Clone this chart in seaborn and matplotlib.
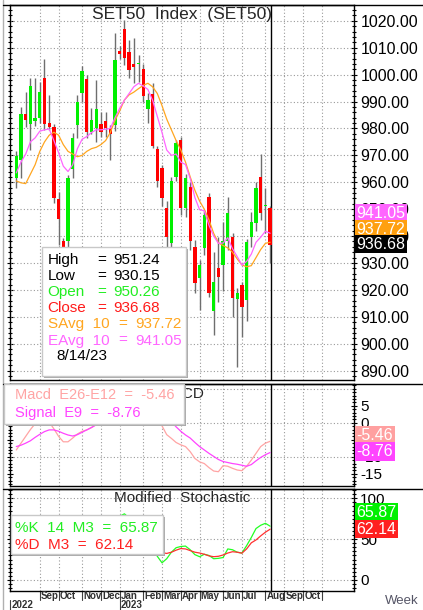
import matplotlib
matplotlib.use("Agg")
import matplotlib.pyplot as plt
from matplotlib.patches import Rectangle
from matplotlib.lines import Line2D
import matplotlib.transforms as mtransforms
import numpy as np
import pandas as pd
import seaborn as sns

# weekly bars, week 0 = 1 Aug 2022 ... week 54 = 14 Aug 2023
opens = [961.7, 968.1, 985.4, 981.6, 982.8, 983.8, 998.7, 982.2, 980.7, 953.8,
         938.0, 938.3, 965.0, 981.3, 993.1, 998.3, 978.8, 980.1, 981.8, 982.8,
         980.1, 981.3, 1008.8, 1016.9, 1008.6, 1004.1, 1003.8, 1002.0, 987.2, 993.0,
         972.4, 965.2, 950.3, 937.4, 962.1, 975.8, 950.4, 958.4, 936.1, 924.3,
         935.5, 954.7, 912.2, 928.1, 929.3, 938.0, 939.8, 916.5, 921.9, 916.3,
         939.5, 944.8, 962.1, 951.0, 950.26]
highs = [971.7, 987.8, 993.5, 998.7, 998.7, 997.4, 1005.8, 992.5, 981.5, 956.5,
         939.2, 962.8, 978.3, 992.5, 1003.4, 999.9, 987.5, 998.1, 986.3, 986.3,
         981.3, 1015.4, 1010.5, 1020.5, 1012.9, 1013.6, 1007.4, 1004.1, 993.1, 997.0,
         973.3, 966.5, 953.0, 962.0, 975.8, 977.0, 963.0, 960.0, 938.6, 931.2,
         949.7, 956.0, 934.1, 939.8, 945.4, 954.7, 941.2, 920.7, 923.1, 938.8,
         949.0, 960.0, 970.6, 958.0, 951.24]
lows = [957.9, 961.5, 980.5, 972.0, 981.0, 982.0, 979.5, 979.5, 952.2, 936.7,
        934.9, 930.0, 961.5, 976.5, 989.8, 976.4, 978.0, 975.1, 977.0, 977.0,
        968.3, 979.0, 1006.0, 1003.6, 998.7, 996.8, 997.4, 989.8, 982.0, 972.7,
        958.4, 951.0, 936.1, 936.1, 960.3, 948.0, 947.0, 934.9, 918.8, 912.6,
        933.0, 917.5, 903.3, 915.6, 919.4, 934.9, 910.0, 891.5, 902.6, 908.5,
        936.0, 942.0, 946.0, 941.2, 930.15]
closes = [969.6, 985.4, 983.2, 995.8, 983.8, 993.5, 981.6, 980.7, 954.3, 946.4,
          935.9, 961.5, 976.6, 989.8, 1001.2, 978.8, 983.2, 987.3, 978.8, 980.1,
          977.9, 1005.4, 1007.6, 1006.1, 1001.8, 1003.0, 1004.2, 992.2, 990.5, 973.5,
          960.6, 954.1, 939.8, 960.3, 974.5, 950.4, 961.5, 938.0, 922.5, 929.3,
          947.9, 918.8, 923.0, 924.7, 938.0, 948.5, 916.9, 919.0, 913.8, 937.7,
          945.2, 957.7, 948.5, 951.4, 936.68]
savg10 = [960.5, 959.8, 959.5, 963.0, 966.5, 971.5, 975.0, 977.5, 978.6, 977.5,
          974.0, 971.5, 970.5, 969.5, 970.0, 971.5, 972.5, 973.0, 974.0, 975.5,
          978.5, 983.0, 986.5, 990.6, 992.5, 993.5, 994.8, 996.0, 996.8, 995.5,
          993.0, 988.5, 983.5, 979.5, 975.5, 972.0, 967.5, 962.0, 957.0, 953.0,
          950.0, 946.0, 941.0, 937.5, 936.5, 935.6, 934.0, 931.5, 929.3, 928.6,
          929.0, 932.0, 935.0, 937.3, 937.72]
eavg10 = [963.5, 967.5, 970.5, 975.0, 976.5, 979.0, 979.5, 979.8, 975.5, 971.0,
          966.0, 964.0, 966.5, 972.5, 976.0, 977.0, 978.5, 979.5, 979.5, 979.7,
          980.0, 984.0, 987.5, 990.5, 993.0, 995.5, 996.8, 995.8, 994.5, 990.5,
          984.5, 978.5, 972.0, 970.0, 970.5, 967.5, 966.6, 961.4, 954.3, 949.8,
          949.4, 944.0, 940.0, 937.3, 937.4, 939.4, 935.3, 932.4, 929.2, 930.6,
          933.3, 937.7, 939.6, 941.8, 941.05]
macd = [-8.0, -6.0, -4.0, -2.0, -0.3, 0.5, 0.8, 0.2, -1.8, -4.0,
        -5.6, -5.6, -4.5, -3.3, -2.5, -2.1, -1.4, -0.5, 0.5, 1.0,
        1.2, 3.0, 4.8, 6.0, 6.5, 6.8, 6.8, 6.0, 5.0, 3.0,
        1.0, -0.9, -3.5, -4.6, -5.8, -6.5, -7.0, -8.5, -10.5, -11.5,
        -12.0, -13.2, -14.2, -14.4, -12.6, -12.8, -13.4, -13.9, -14.1, -12.8,
        -11.0, -9.0, -7.0, -6.0, -5.46]
signal = [-7.0, -6.6, -6.0, -5.3, -4.3, -3.4, -2.6, -2.1, -2.1, -2.5,
          -3.1, -3.6, -3.9, -3.5, -2.8, -2.1, -1.4, -0.6, 0.1, 0.6,
          1.0, 1.5, 2.2, 3.0, 3.7, 4.3, 4.8, 5.1, 5.2, 4.8,
          4.1, 3.1, 1.8, 0.3, -1.2, -2.5, -3.6, -4.5, -5.8, -7.0,
          -8.0, -9.0, -9.9, -10.8, -11.4, -11.7, -12.0, -12.2, -12.5, -12.8,
          -12.3, -11.2, -10.2, -9.4, -8.76]
stoch_k = [60, 70, 72, 75, 72, 74, 70, 60, 45, 38,
           36, 48, 58, 66, 72, 65, 62, 66, 60, 58,
           55, 70, 78, 81, 76, 72, 70, 62, 55, 40,
           29, 21, 26, 34, 39.5, 41, 41.5, 37, 31, 28.5,
           31.5, 30, 26, 26.5, 27.5, 38, 37, 34, 33, 42,
           52, 63, 67, 69.4, 65.87]
stoch_d = [55, 62, 67, 72, 73, 73.5, 72, 68, 58, 48,
           40, 41, 47, 57, 65, 68, 66, 64, 63, 61,
           58, 61, 68, 76, 78, 76, 73, 68, 62, 52,
           36.5, 33.5, 32.5, 34, 36.5, 38.5, 38, 36, 34, 33,
           31.5, 29.5, 28.5, 29, 30.6, 33, 34.6, 34, 32.8, 38,
           45.5, 49, 54, 58.5, 62.14]
last_date = "8/14/23"

month_names = ["Sep", "Oct", "Nov", "Dec", "Jan", "Feb", "Mar", "Apr",
               "May", "Jun", "Jul", "Aug", "Sep", "Oct"]
month_start_week = [5, 9, 14, 18, 22, 27, 31, 35, 39, 44, 48, 53, 57, 61, 65]
year_names = ["2022", "2023"]
year_start_week = [-1.3, 22]

price_ticks = list(range(890, 1030, 10))
macd_ticks = [5, 0, -5, -10, -15]
macd_labels = ["5", "0", "", "-10", "-15"]
stoch_ticks = [100, 50, 0]

GREEN = "#00F000"
RED = "#FF0000"
ORANGE = "#FFA620"
VIOLET = "#FF66FF"
SALMON = "#FFA4A4"
MAGENTA = "#FF44FF"
GRID = "#9A9A9A"

sns.set_style("white")
plt.rcParams["font.family"] = ["Liberation Sans", "DejaVu Sans"]

df = pd.DataFrame({"week": np.arange(len(closes)), "open": opens, "high": highs,
                   "low": lows, "close": closes, "savg": savg10, "eavg": eavg10,
                   "macd": macd, "signal": signal, "k": stoch_k, "d": stoch_d})
df["body_lo"] = df[["open", "close"]].min(axis=1)
df["body_h"] = (df["close"] - df["open"]).abs().clip(lower=0.5)

W, H = 423, 610
fig = plt.figure(figsize=(W / 100, H / 100), dpi=100)


def axes_px(x0, y0, x1, y1):
    return fig.add_axes([x0 / W, 1 - y1 / H, (x1 - x0) / W, (y1 - y0) / H])


def ftext(x, y, s, **kw):
    kw.setdefault("va", "center")
    kw.setdefault("ha", "left")
    kw.setdefault("zorder", 12)
    return fig.text(x / W, 1 - y / H, s, **kw)


def frect(x0, y0, x1, y1, **kw):
    fig.add_artist(Rectangle((x0 / W, 1 - y1 / H), (x1 - x0) / W, (y1 - y0) / H,
                             transform=fig.transFigure, **kw))


def fline(x0, y0, x1, y1, **kw):
    fig.add_artist(Line2D([x0 / W, x1 / W], [1 - y0 / H, 1 - y1 / H],
                          transform=fig.transFigure, **kw))


ax_p = axes_px(10, 5, 354, 380)
ax_m = axes_px(10, 384, 354, 486)
ax_s = axes_px(10, 489, 354, 591)

for ax in (ax_p, ax_m, ax_s):
    ax.set_xlim(-1.34, 71.85)
    ax.set_xticks([])
    for sp in ax.spines.values():
        sp.set_color("black")
        sp.set_linewidth(1)
    for w in month_start_week:
        ax.axvline(w, color=GRID, lw=0.8, ls=(0, (1, 2)), zorder=1)
    ax.axvline(54.15, color="black", lw=1, zorder=2)
    ax.yaxis.tick_right()
    ax.tick_params(axis="y", which="both", direction="inout", left=True, right=True,
                   labelleft=False, labelright=True, labelsize=11.5, pad=2,
                   colors="black", width=0.8)
    ax.tick_params(axis="y", which="major", length=5)
    ax.tick_params(axis="y", which="minor", length=3)

# price panel
ax_p.set_ylim(886.5, 1025.9)
ax_p.set_yticks(price_ticks)
ax_p.set_yticklabels([f"{v:.2f}" for v in price_ticks])
ax_p.set_yticks(np.arange(888, 1026, 2), minor=True)
for v in price_ticks:
    ax_p.axhline(v, color=GRID, lw=0.8, ls=(0, (1, 2)), zorder=1)
ax_p.vlines(df["week"], df["low"], df["high"], color="#6E6E6E", lw=1, zorder=3)
ax_p.bar(df["week"], df["body_h"], bottom=df["body_lo"], width=0.72, lw=0, zorder=4,
         color=np.where(df["close"] >= df["open"], GREEN, RED))
sns.lineplot(data=df, x="week", y="savg", ax=ax_p, color=ORANGE, lw=0.9, zorder=5, legend=False)
sns.lineplot(data=df, x="week", y="eavg", ax=ax_p, color=VIOLET, lw=0.9, zorder=5, legend=False)
ax_p.set_xlabel("")
ax_p.set_ylabel("")
ax_p.text(0.5, 0.975, "SET50  Index  (SET50)", transform=ax_p.transAxes, ha="center",
          va="center", fontsize=12.5, zorder=6)

# MACD panel
ax_m.set_ylim(-18.6, 11.4)
ax_m.set_yticks(macd_ticks)
ax_m.set_yticklabels(macd_labels)
ax_m.set_yticks(np.arange(-18, 12, 1), minor=True)
ax_m.tick_params(axis="y", labelsize=11)
for v in (10, 0, -10):
    ax_m.axhline(v, color=GRID, lw=0.8, ls=(0, (1, 2)), zorder=1)
sns.lineplot(data=df, x="week", y="macd", ax=ax_m, color=SALMON, lw=0.9, legend=False)
sns.lineplot(data=df, x="week", y="signal", ax=ax_m, color=MAGENTA, lw=0.9, legend=False)
ax_m.set_xlabel("")
ax_m.set_ylabel("")
ax_m.text(0.5, 0.9, "MACD", transform=ax_m.transAxes, ha="center", va="center",
          fontsize=11)

# stochastic panel
ax_s.set_ylim(-13.5, 111.4)
ax_s.set_yticks(stoch_ticks)
ax_s.set_yticklabels([str(v) for v in stoch_ticks])
ax_s.set_yticks(np.arange(-10, 112, 5), minor=True)
ax_s.tick_params(axis="y", labelsize=11)
for v in stoch_ticks:
    ax_s.axhline(v, color=GRID, lw=0.8, ls=(0, (1, 2)), zorder=1)
sns.lineplot(data=df, x="week", y="k", ax=ax_s, color="#22FF22", lw=0.9, legend=False)
sns.lineplot(data=df, x="week", y="d", ax=ax_s, color="#FF3030", lw=0.9, legend=False)
ax_s.set_xlabel("")
ax_s.set_ylabel("")
ax_s.text(0.5, 0.915, "Modified  Stochastic", transform=ax_s.transAxes, ha="center",
          va="center", fontsize=11)

# time axis under the last panel
blend = mtransforms.blended_transform_factory(ax_s.transData, ax_s.transAxes)
for w, name in zip(month_start_week, month_names):
    ax_s.plot([w, w], [0, -0.09], transform=blend, color="#404040", lw=0.8, clip_on=False)
    ax_s.text(w + 0.25, -0.045, name, transform=blend, ha="left", va="center",
              fontsize=7, fontweight="bold", color="#303030", clip_on=False)
ax_s.plot([month_start_week[-1]] * 2, [0, -0.09], transform=blend, color="#404040", lw=0.8, clip_on=False)
for w, name in zip(year_start_week, year_names):
    ax_s.plot([w, w], [-0.09, -0.19], transform=blend, color="#404040", lw=0.8, clip_on=False)
    ax_s.text(w + 0.3, -0.14, name, transform=blend, ha="left", va="center",
              fontsize=7, fontweight="bold", color="#303030", clip_on=False)
ftext(402, 601, "Week", ha="center", fontsize=9.5, color="#555566")

# frame lines
fline(3, 0, 3, 610, color="#B0B0B0", lw=1)
for y in (5, 384, 489):
    fline(3, y, 423, y, color="black", lw=1)

# value tags on the right axis
tag_font = dict(color="white", fontsize=11.5)
ftext(356.5, 213.3, f"{eavg10[-1]:.2f}", bbox=dict(boxstyle="square,pad=0.1", fc=VIOLET, ec="none"), **tag_font)
ftext(356.5, 229.2, f"{savg10[-1]:.2f}", bbox=dict(boxstyle="square,pad=0.1", fc="#FFA010", ec="none"), **tag_font)
ftext(356.5, 244.2, f"{closes[-1]:.2f}", bbox=dict(boxstyle="square,pad=0.1", fc="black", ec="none"), **tag_font)
ftext(356.5, 435.5, f"{macd[-1]:.2f}", bbox=dict(boxstyle="square,pad=0.1", fc="#FFA0A0", ec="none"), **tag_font)
ftext(356.5, 451.5, f"{signal[-1]:.2f}", bbox=dict(boxstyle="square,pad=0.1", fc=MAGENTA, ec="none"), **tag_font)
ftext(356.5, 512.5, f"{stoch_k[-1]:.2f}", bbox=dict(boxstyle="square,pad=0.1", fc="#00F000", ec="none"), **tag_font)
ftext(356.5, 529.2, f"{stoch_d[-1]:.2f}", bbox=dict(boxstyle="square,pad=0.1", fc="#FF2020", ec="none"), **tag_font)

# data boxes
def data_box(x0, y0, x1, y1):
    frect(x0 + 2, y0 + 2, x1 + 2, y1 + 2, fc="#A8A8A8", ec="none", zorder=10)
    frect(x0, y0, x1, y1, fc="white", ec="#C8C8C8", lw=1, zorder=11)


data_box(42, 247, 186, 376)
rows = [("High", f"{highs[-1]:.2f}", "black", 97, 113),
        ("Low", f"{lows[-1]:.2f}", "black", 97, 113),
        ("Open", f"{opens[-1]:.2f}", "#22EE22", 97, 113),
        ("Close", f"{closes[-1]:.2f}", "#FF1A1A", 97, 113),
        ("SAvg  10", f"{savg10[-1]:.2f}", ORANGE, 118, 135),
        ("EAvg  10", f"{eavg10[-1]:.2f}", VIOLET, 118, 135)]
for n, (lab, val, col, xe, xv) in enumerate(rows):
    y = 260 + 16.1 * n
    ftext(47.5, y, lab, color=col, fontsize=11)
    ftext(xe, y, "=", color=col, fontsize=11)
    ftext(xv, y, val, color=col, fontsize=11)
ftext(56, 356.5, last_date, color="black", fontsize=11)

data_box(4, 384, 184, 424)
ftext(15, 395, f"Macd  E26-E12  =  {macd[-1]:.2f}", color=SALMON, fontsize=10.5)
ftext(15, 412.5, f"Signal  E9  =  {signal[-1]:.2f}", color=MAGENTA, fontsize=10.5)

data_box(11, 515, 163, 554)
ftext(15, 527.5, f"%K  14  M3  =  {stoch_k[-1]:.2f}", color="#22EE22", fontsize=11)
ftext(15, 545, f"%D  M3  =  {stoch_d[-1]:.2f}", color="#FF2020", fontsize=11)

fig.savefig("out.png", dpi=100)
